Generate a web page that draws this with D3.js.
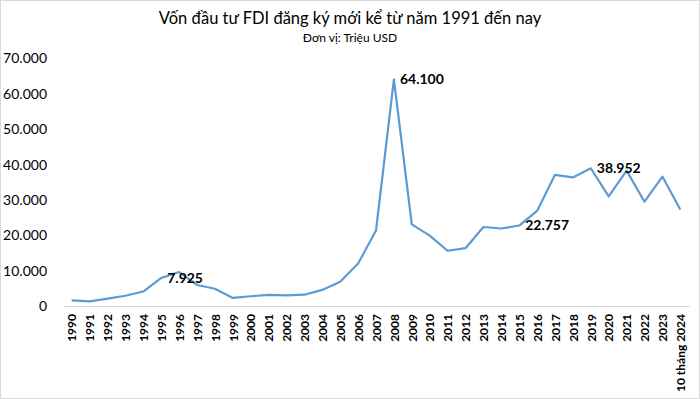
<!DOCTYPE html>
<html>
<head>
<meta charset="utf-8">
<script src="https://cdn.jsdelivr.net/npm/d3@7"></script>
<style>
  body { margin: 0; background: #fff; }
  svg { display: block; font-family: Lato, "Open Sans", sans-serif; }
</style>
</head>
<body>
<div id="chart"></div>
<script>
// Vốn FDI đăng ký mới, triệu USD
const years = ["1990", "1991", "1992", "1993", "1994", "1995", "1996", "1997", "1998", "1999",
  "2000", "2001", "2002", "2003", "2004", "2005", "2006", "2007", "2008", "2009",
  "2010", "2011", "2012", "2013", "2014", "2015", "2016", "2017", "2018", "2019",
  "2020", "2021", "2022", "2023", "10 tháng 2024"];

const values = [1600, 1300, 2100, 2900, 4100, 7925, 9600, 5950, 4870, 2280,
  2760, 3140, 3000, 3190, 4550, 6840, 12000, 21350, 64100, 23100,
  19890, 15620, 16350, 22350, 21920, 22757, 26890, 37100, 36370, 38952,
  31000, 38300, 29500, 36600, 27300];

const labelledYears = ["1995", "2008", "2015", "2019"];

const yTicks = [0, 10000, 20000, 30000, 40000, 50000, 60000, 70000];

const title = "Vốn đầu tư FDI đăng ký mới kể từ năm 1991 đến nay";
const subtitle = "Đơn vị: Triệu USD";

const width = 700;
const height = 399;

const vn = d3.formatLocale({ decimal: ",", thousands: ".", grouping: [3], currency: ["", ""] });
const fmt = vn.format(",");

const x = d3.scalePoint()
    .domain(years)
    .range([62.75, 689.25])
    .padding(0.5);

const y = d3.scaleLinear()
    .domain([0, 70000])
    .range([306, 58.5]);

const svg = d3.select("#chart").append("svg")
    .attr("width", width)
    .attr("height", height);

// chart border
svg.append("rect")
    .attr("x", 0.5).attr("y", 0.5)
    .attr("width", width - 1).attr("height", height - 1)
    .attr("fill", "none")
    .attr("stroke", "#d9d9d9");

svg.append("text")
    .attr("x", 350).attr("y", 24)
    .attr("text-anchor", "middle")
    .attr("font-size", 16.5)
    .attr("fill", "#000")
    .text(title);

svg.append("text")
    .attr("x", 350).attr("y", 42)
    .attr("text-anchor", "middle")
    .attr("font-size", 12)
    .attr("fill", "#000")
    .text(subtitle);

// y axis labels (no line, no grid)
const yAxis = svg.append("g")
    .attr("transform", "translate(47,0)")
    .call(d3.axisLeft(y).tickValues(yTicks).tickFormat(fmt).tickSize(0).tickPadding(0));
yAxis.select(".domain").remove();
yAxis.selectAll("text")
    .attr("font-family", "Lato, sans-serif")
    .attr("font-size", 14)
    .attr("fill", "#000");

// x axis
const xAxis = svg.append("g")
    .attr("transform", `translate(0,${y(0)})`)
    .call(d3.axisBottom(x).tickSize(0).tickPadding(0));
xAxis.select(".domain")
    .attr("stroke", "#d9d9d9")
    .attr("stroke-width", 1);
xAxis.selectAll("text")
    .attr("font-family", "Lato, sans-serif")
    .attr("font-size", 12)
    .attr("font-weight", "bold")
    .attr("fill", "#000")
    .attr("text-anchor", "end")
    .attr("dy", "0.35em")
    .attr("transform", "translate(0,8) rotate(-90)")
    .attr("y", 0)
    .attr("x", 0);

const line = d3.line()
    .x((d, i) => x(years[i]))
    .y(d => y(d));

svg.append("path")
    .datum(values)
    .attr("fill", "none")
    .attr("stroke", "#5b9bd5")
    .attr("stroke-width", 2.2)
    .attr("stroke-linejoin", "round")
    .attr("d", line);

svg.append("g")
    .selectAll("text")
    .data(years.map((yr, i) => ({ yr, v: values[i] })).filter(d => labelledYears.includes(d.yr)))
    .join("text")
    .attr("x", d => x(d.yr) + 6)
    .attr("y", d => y(d.v))
    .attr("dy", "0.35em")
    .attr("font-size", 14)
    .attr("font-weight", "bold")
    .attr("fill", "#000")
    .text(d => fmt(d.v));
</script>
</body>
</html>
